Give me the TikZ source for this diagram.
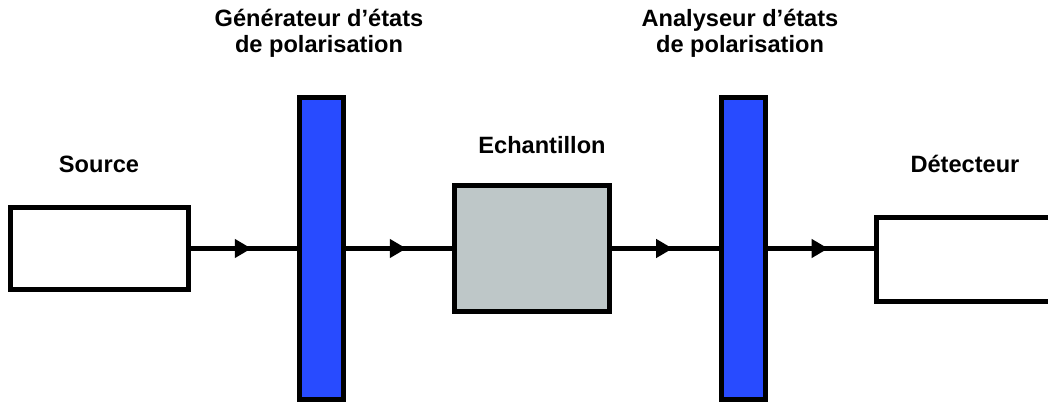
\documentclass[tikz,border=0pt]{standalone}
\usepackage{fontspec}
\setmainfont{Liberation Sans}
\usepackage{tikz}
\usetikzlibrary{arrows.meta,decorations.markings,positioning}
\definecolor{polarblue}{RGB}{40,75,255}
\definecolor{samplegray}{RGB}{190,199,200}
\tikzset{
  box/.style={draw,line width=2.5pt,inner sep=0pt},
  plate/.style={box,fill=polarblue,minimum width=22pt,minimum height=150.5pt},
  lbl/.style={font=\fontsize{11.8}{13.25}\selectfont\bfseries,inner sep=0pt,anchor=base},
  beam/.style={line width=2.5pt,postaction={decorate},
    decoration={markings,mark=at position 0.57 with {\arrow{Triangle[length=8.3pt,width=9pt]}}}}
}
\begin{document}
\begin{tikzpicture}[x=0.5pt,y=-0.5pt]
  \clip (0,0) rectangle (1048,405);
  \node[box,minimum width=89pt,minimum height=41pt] (src) at (99.5,248.5) {};
  \node[plate] (gen) at (321.5,248.5) {};
  \node[box,fill=samplegray,minimum width=77.5pt,minimum height=63pt] (smp) at (532,248.5) {};
  \node[plate] (ana) at (743,248.5) {};
  \node[box,minimum width=100pt,minimum height=42pt,anchor=west] (det) at (874,259.5) {};
  \draw[beam] (src) -- (gen);
  \draw[beam] (gen) -- (smp);
  \draw[beam] (smp) -- (ana);
  \draw[beam] (ana.east) -- (ana.east -| det.west);
  \node[lbl] (srclbl) at (99,173) {Source};
  \node[lbl,align=center] (genlbl) at (319,53) {Générateur d’états\\de polarisation};
  \node[lbl] (smplbl) at (542,154) {Echantillon};
  \node[lbl,align=center] (analbl) at (740,53) {Analyseur d’états\\de polarisation};
  \node[lbl] (detlbl) at (965,173) {Détecteur};
\end{tikzpicture}
\end{document}
